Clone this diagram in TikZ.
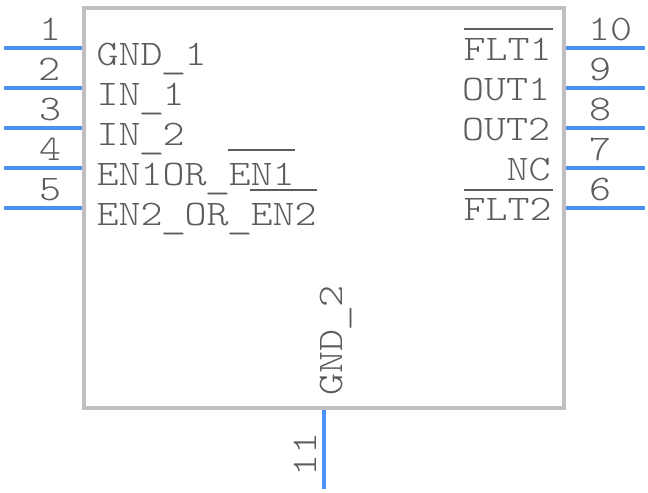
\documentclass[tikz,border=0pt]{standalone}
\definecolor{pinblue}{HTML}{4A90F5}
\definecolor{boxgrey}{HTML}{C0C0C0}
\definecolor{txtgrey}{HTML}{5C5C5C}
\newcommand{\wideT}[1]{\scalebox{1.164}[1]{#1}}
\newcommand{\usc}{\makebox[14.175pt][c]{\scalebox{1.2}[1]{\raisebox{-2.6pt}{\_}}}}
\tikzset{
  x=0.75pt,y=-0.75pt,
  pinline/.style={draw=pinblue,line width=3pt,line cap=butt},
  bodybox/.style={draw=boxgrey,line width=3pt,line join=miter},
  lbl/.style={inner sep=0pt,outer sep=0pt,text=txtgrey,font=\fontsize{27}{27}\fontseries{l}\ttfamily\selectfont,anchor=base west},
  num/.style={lbl,anchor=base},
  bar/.style={draw=txtgrey,line width=1.5pt},
}
\begin{document}
\begin{tikzpicture}
\useasboundingbox (0,0) rectangle (648,492);
\draw[bodybox] (84,8) rectangle (564,408);
% left pins
\foreach \n/\yy in {1/48,2/88,3/128,4/168,5/208}{
  \coordinate (pl\n a) at (4,\yy);
  \coordinate (pl\n b) at (82,\yy);
  \draw[pinline] (pl\n a) -- (pl\n b);
}
% right pins
\foreach \n/\yy in {10/48,9/88,8/128,7/168,6/208}{
  \coordinate (pr\n a) at (566,\yy);
  \coordinate (pr\n b) at (645,\yy);
  \draw[pinline] (pr\n a) -- (pr\n b);
}
\coordinate (pb a) at (324,410);
\coordinate (pb b) at (324,489);
\draw[pinline] (pb a) -- (pb b);
% pin numbers
\node[num] (n1) at (50,40.5) {\wideT{1}};
\node[num] (n2) at (49,80.5) {\wideT{2}};
\node[num] (n3) at (50,120.5) {\wideT{3}};
\node[num] (n4) at (50,160.5) {\wideT{4}};
\node[num] (n5) at (50,200.5) {\wideT{5}};
\node[num] (n10) at (610,40.5) {\wideT{10}};
\node[num] (n9) at (600,80.5) {\wideT{9}};
\node[num] (n8) at (600,120.5) {\wideT{8}};
\node[num] (n7) at (600,160.5) {\wideT{7}};
\node[num] (n6) at (600,200.5) {\wideT{6}};
\node[num,rotate=90] (n11) at (316,454) {\wideT{11}};
% labels
\node[lbl] (l1) at (96.5,65.5) {\wideT{GND\usc{}1}};
\node[lbl] (l2) at (96.5,105.5) {\wideT{IN\usc{}1}};
\node[lbl] (l3) at (96.5,145.5) {\wideT{IN\usc{}2}};
\node[lbl] (l4) at (96.5,185.5) {\wideT{EN1OR\usc{}EN1}};
\node[lbl] (l5) at (96.5,225.5) {\wideT{EN2\usc{}OR\usc{}EN2}};
\node[lbl] (r1) at (463.5,60.5) {\wideT{FLT1}};
\node[lbl] (r2) at (462,100.5) {\wideT{OUT1}};
\node[lbl] (r3) at (462,140.5) {\wideT{OUT2}};
\node[lbl] (r4) at (506.5,180.5) {\wideT{NC}};
\node[lbl] (r5) at (463.5,220.5) {\wideT{FLT2}};
\node[lbl,rotate=90] (g2) at (342,395.5) {\wideT{GND\usc{}2}};
% overbars
\coordinate (o1a) at (228,150); \coordinate (o1b) at (295,150);
\coordinate (o2a) at (250,190); \coordinate (o2b) at (317,190);
\coordinate (o3a) at (464,29.5); \coordinate (o3b) at (553,29.5);
\coordinate (o4a) at (464,190); \coordinate (o4b) at (553,190);
\draw[bar] (o1a) -- (o1b);
\draw[bar] (o2a) -- (o2b);
\draw[bar] (o3a) -- (o3b);
\draw[bar] (o4a) -- (o4b);
\end{tikzpicture}
\end{document}
